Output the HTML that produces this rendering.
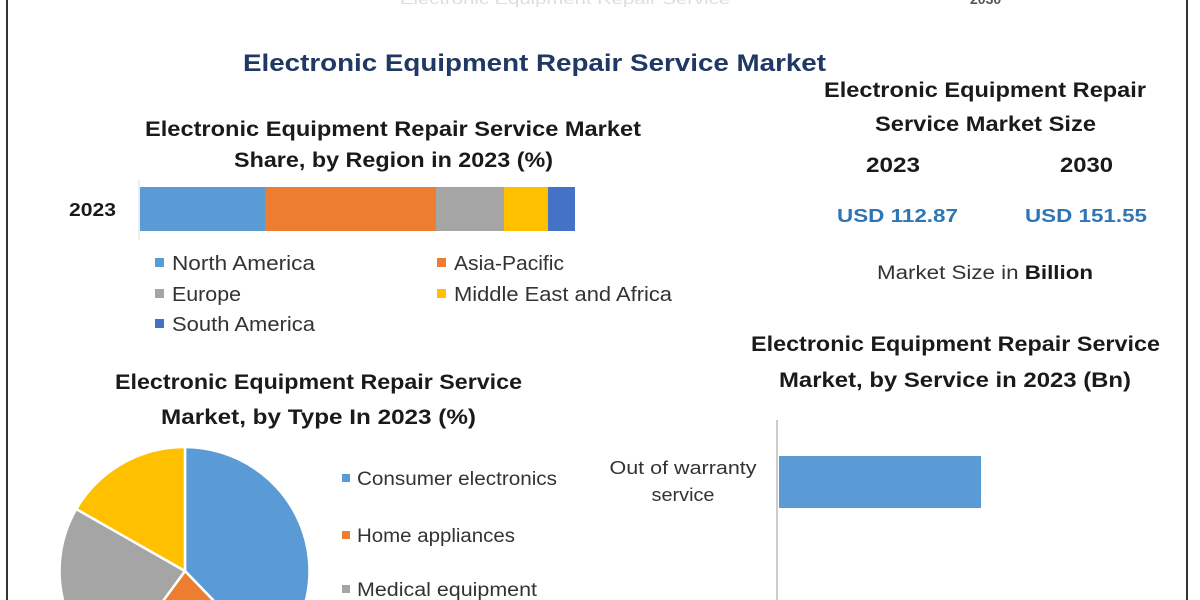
<!DOCTYPE html>
<html><head><meta charset="utf-8"><style>
html,body{margin:0;padding:0;background:#fff;overflow:hidden;}
svg{display:block;}
text{font-family:"Liberation Sans",sans-serif;}
.b{font-weight:bold;fill:#1a1a1a;}
.n{fill:#333;}
</style></head><body>
<svg width="1200" height="600" viewBox="0 0 1200 600" xmlns="http://www.w3.org/2000/svg">
<rect width="1200" height="600" fill="#fff"/>
<line x1="7" y1="0" x2="7" y2="600" stroke="#333" stroke-width="2"/>
<line x1="1187" y1="0" x2="1187" y2="600" stroke="#333" stroke-width="2"/>
<text x="400" y="4" font-size="14" fill="#ddd" textLength="330" lengthAdjust="spacingAndGlyphs">Electronic Equipment Repair Service</text>
<text x="970" y="4" font-size="14" fill="#555" font-weight="bold">2030</text>

<text x="243" y="71" font-size="24" font-weight="bold" fill="#1f3864" textLength="583" lengthAdjust="spacingAndGlyphs">Electronic Equipment Repair Service Market</text>

<text class="b" x="145" y="136" font-size="21" textLength="496" lengthAdjust="spacingAndGlyphs">Electronic Equipment Repair Service Market</text>
<text class="b" x="234" y="167" font-size="21" textLength="319" lengthAdjust="spacingAndGlyphs">Share, by Region in 2023 (%)</text>
<text class="b" x="69" y="216" font-size="18" textLength="47" lengthAdjust="spacingAndGlyphs">2023</text>
<line x1="139" y1="180" x2="139" y2="240" stroke="#ddd"/>
<rect x="140" y="187" width="125" height="44" fill="#5b9bd5"/>
<rect x="265" y="187" width="171" height="44" fill="#ed7d31"/>
<rect x="436" y="187" width="68" height="44" fill="#a5a5a5"/>
<rect x="504" y="187" width="44" height="44" fill="#ffc000"/>
<rect x="548" y="187" width="27" height="44" fill="#4472c4"/>
<rect x="155" y="258" width="9" height="9" fill="#5b9bd5"/>
<text class="n" x="172" y="270" font-size="20" textLength="143" lengthAdjust="spacingAndGlyphs">North America</text>
<rect x="155" y="289" width="9" height="9" fill="#a5a5a5"/>
<text class="n" x="172" y="301" font-size="20" textLength="69" lengthAdjust="spacingAndGlyphs">Europe</text>
<rect x="155" y="319" width="9" height="9" fill="#4472c4"/>
<text class="n" x="172" y="331" font-size="20" textLength="143" lengthAdjust="spacingAndGlyphs">South America</text>
<rect x="437" y="258" width="9" height="9" fill="#ed7d31"/>
<text class="n" x="454" y="270" font-size="20" textLength="110" lengthAdjust="spacingAndGlyphs">Asia-Pacific</text>
<rect x="437" y="289" width="9" height="9" fill="#ffc000"/>
<text class="n" x="454" y="301" font-size="20" textLength="218" lengthAdjust="spacingAndGlyphs">Middle East and Africa</text>

<text class="b" x="824" y="97" font-size="21" textLength="322" lengthAdjust="spacingAndGlyphs">Electronic Equipment Repair</text>
<text class="b" x="875" y="131" font-size="21" textLength="221" lengthAdjust="spacingAndGlyphs">Service Market Size</text>
<text class="b" x="866" y="172" font-size="21" textLength="54" lengthAdjust="spacingAndGlyphs">2023</text>
<text class="b" x="1060" y="172" font-size="21" textLength="53" lengthAdjust="spacingAndGlyphs">2030</text>
<text x="837" y="222" font-size="18" font-weight="bold" fill="#2e75b6" textLength="121" lengthAdjust="spacingAndGlyphs">USD 112.87</text>
<text x="1025" y="222" font-size="18" font-weight="bold" fill="#2e75b6" textLength="122" lengthAdjust="spacingAndGlyphs">USD 151.55</text>
<text class="n" x="877" y="279" font-size="19" textLength="216" lengthAdjust="spacingAndGlyphs">Market Size in <tspan font-weight="bold" fill="#1a1a1a">Billion</tspan></text>

<text class="b" x="751" y="351" font-size="21" textLength="409" lengthAdjust="spacingAndGlyphs">Electronic Equipment Repair Service</text>
<text class="b" x="779" y="387" font-size="21" textLength="352" lengthAdjust="spacingAndGlyphs">Market, by Service in 2023 (Bn)</text>
<line x1="777" y1="420" x2="777" y2="600" stroke="#ccc" stroke-width="2"/>
<rect x="779" y="456" width="202" height="52" fill="#5b9bd5"/>
<text class="n" x="683" y="474" font-size="18" text-anchor="middle" textLength="147" lengthAdjust="spacingAndGlyphs">Out of warranty</text>
<text class="n" x="683" y="501" font-size="18" text-anchor="middle" textLength="63" lengthAdjust="spacingAndGlyphs">service</text>

<text class="b" x="115" y="389" font-size="21" textLength="407" lengthAdjust="spacingAndGlyphs">Electronic Equipment Repair Service</text>
<text class="b" x="161" y="424" font-size="21" textLength="315" lengthAdjust="spacingAndGlyphs">Market, by Type In 2023 (%)</text>

<g transform="translate(185,571) scale(125,124)">
<path d="M0,0 L0,-1 A1,1 0 0 1 0.69,0.72 Z" fill="#5b9bd5" stroke="#fff" stroke-width="0.02"/>
<path d="M0,0 L0.69,0.72 A1,1 0 0 1 -0.59,0.81 Z" fill="#ed7d31" stroke="#fff" stroke-width="0.02"/>
<path d="M0,0 L-0.59,0.81 A1,1 0 0 1 -0.87,-0.5 Z" fill="#a5a5a5" stroke="#fff" stroke-width="0.02"/>
<path d="M0,0 L-0.87,-0.5 A1,1 0 0 1 0,-1 Z" fill="#ffc000" stroke="#fff" stroke-width="0.02"/>
</g>

<rect x="342" y="474" width="8" height="8" fill="#5b9bd5"/>
<text class="n" x="357" y="485" font-size="19" textLength="200" lengthAdjust="spacingAndGlyphs">Consumer electronics</text>
<rect x="342" y="531" width="8" height="8" fill="#ed7d31"/>
<text class="n" x="357" y="542" font-size="19" textLength="158" lengthAdjust="spacingAndGlyphs">Home appliances</text>
<rect x="342" y="585" width="8" height="8" fill="#a5a5a5"/>
<text class="n" x="357" y="596" font-size="19" textLength="180" lengthAdjust="spacingAndGlyphs">Medical equipment</text>
</svg>
</body></html>
